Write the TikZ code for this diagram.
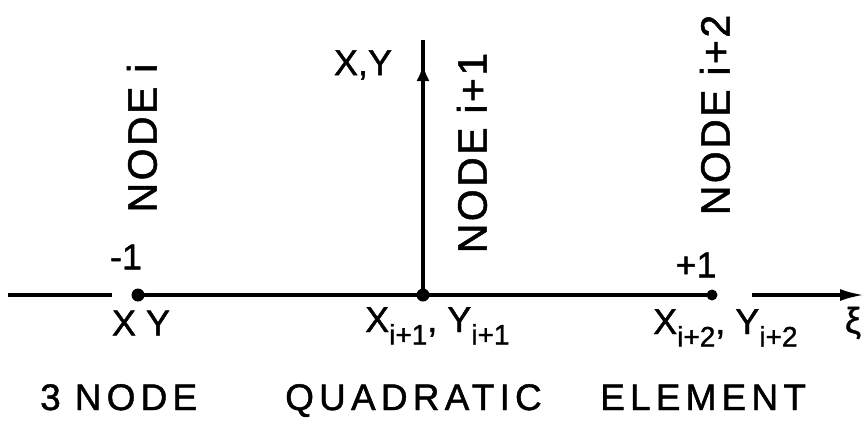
\documentclass[tikz,border=0pt]{standalone}
\usepackage{fontspec}
\setmainfont{Liberation Sans}[FakeBold=1.2]
\usetikzlibrary{arrows.meta}
\newcommand\lowidx[1]{\raisebox{-0.65ex}{\fontsize{28}{30}\selectfont #1}}
\begin{document}
\begin{tikzpicture}[x=1pt,y=-1pt,
  ax/.style={line width=3.2pt},
  lbl/.style={font=\fontsize{36}{40}\selectfont, inner sep=0pt},
  big/.style={font=\fontsize{41}{46}\selectfont\addfontfeature{LetterSpace=6}, inner sep=0pt},
  ttl/.style={font=\fontsize{37}{40}\selectfont\addfontfeature{LetterSpace=14}, inner sep=0pt, anchor=base west},
  dotnode/.style={circle,fill=black,inner sep=0pt,minimum size=13pt}]
\useasboundingbox (0,0) rectangle (866,424);
% axis
\coordinate (L0) at (8,295);
\coordinate (L1) at (112,295);
\node[dotnode] (n1) at (138,295) {};
\node[dotnode] (n2) at (423,295) {};
\node[dotnode, minimum size=11pt] (n3) at (712,295) {};
\coordinate (R0) at (752,295);
\coordinate (R1) at (864,295);
\coordinate (vt) at (423,40);
\coordinate (vh) at (423,64);
\draw[ax] (L0) -- (L1);
\draw[ax] (n1.center) -- (n3.center);
\draw[ax, -{Latex[length=24pt,width=12pt]}] (R0) -- (R1);
\draw[ax] (n2.center) -- (vt);
\draw[ax, -{Latex[length=17pt,width=13pt]}] (n2.center) -- (vh);
% labels
\node[lbl] (xyl) at (363,65) {X,Y};
\node[big, rotate=90] (nd1) at (142,138) {NODE i};
\node[big, rotate=90] (nd2) at (472,153) {NODE i+1};
\node[big, rotate=90] (nd3) at (715,115) {NODE i+2};
\node[lbl] (m1) at (126,257) {-1};
\node[lbl] (p1) at (696,265) {+1};
\node[lbl] (xy1) at (141,323) {X Y};
\node[lbl, anchor=base west] (xy2) at (365,332) {X\lowidx{i+1}, Y\lowidx{i+1}};
\node[lbl, anchor=base west] (xy3) at (653,334) {X\lowidx{i+2}, Y\lowidx{i+2}};
\node[lbl] (xi) at (853,323) {ξ};
% title
\node[ttl] (t1) at (40,410) {3\hspace{14pt}NODE};
\node[ttl] (t2) at (285,410) {QUADRATIC};
\node[ttl] (t3) at (600,410) {ELEMENT};
\end{tikzpicture}
\end{document}
